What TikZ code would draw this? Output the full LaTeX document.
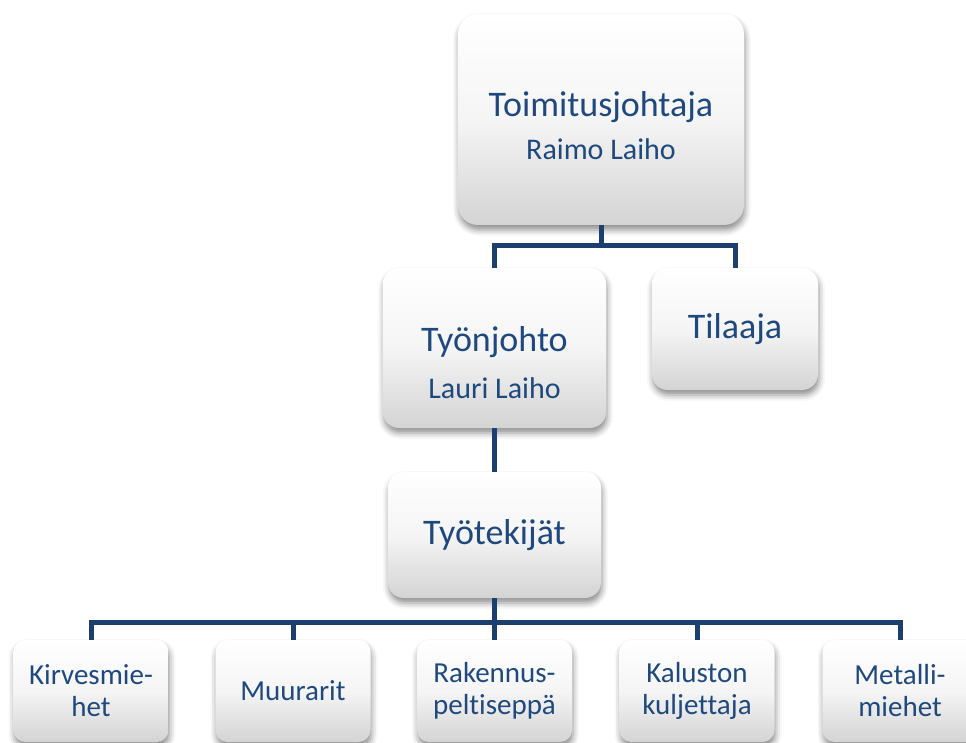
\documentclass[tikz,border=0pt]{standalone}
\usepackage{fontspec}
\setmainfont{Carlito}[Ligatures={CommonOff}]
\usetikzlibrary{shadows.blur}
\definecolor{txtblue}{HTML}{1F497D}
\definecolor{linkblue}{HTML}{1C3F6E}
\tikzset{
  orgbox/.style={rectangle, rounded corners=16pt, top color=white, bottom color=black!17,
    middle color=black!4, text=txtblue, align=center, inner sep=2pt,
    blur shadow={shadow xshift=1pt, shadow yshift=-5pt, shadow blur radius=6pt, shadow opacity=45}},
  label text/.style={text=txtblue, align=center, inner sep=0pt},
  link/.style={draw=linkblue, line width=5pt, line join=miter},
  big/.style={font=\fontsize{36}{41}\selectfont},
  small/.style={font=\fontsize{29}{32}\selectfont},
}
\begin{document}
\begin{tikzpicture}[x=1pt,y=-1pt]
\useasboundingbox (0,0) rectangle (966,743);
\clip (0,0) rectangle (966,743);

% chain of command
\node[orgbox, rounded corners=20pt, minimum width=286pt, minimum height=211pt] (ceo) at (601,119.5) {};
\node[label text, big] (ceoTitle) at (601,107) {Toimitusjohtaja};
\node[label text, font=\fontsize{30}{34}\selectfont] (ceoName) at (601,149) {Raimo Laiho};

\node[orgbox, minimum width=223pt, minimum height=160pt] (foreman) at (494.5,348) {};
\node[label text, big] (foremanTitle) at (494.5,342) {Työnjohto};
\node[label text, font=\fontsize{30}{34}\selectfont] (foremanName) at (494.5,388) {Lauri Laiho};

\node[orgbox, big, minimum width=166pt, minimum height=122pt] (client) at (735,329) {Tilaaja};
\node[orgbox, big, minimum width=213pt, minimum height=126pt] (workers) at (494.5,535) {Työtekijät};

% trades
\node[orgbox, small, rounded corners=12pt, minimum width=155pt, minimum height=102pt] (t1) at (91,691) {Kirvesmie-\\het};
\node[orgbox, small, rounded corners=12pt, minimum width=155pt, minimum height=102pt] (t2) at (293,691) {Muurarit};
\node[orgbox, small, rounded corners=12pt, minimum width=155pt, minimum height=102pt] (t3) at (494.5,691) {Rakennus-\\peltiseppä};
\node[orgbox, small, rounded corners=12pt, minimum width=155pt, minimum height=102pt] (t4) at (697,691) {Kaluston\\kuljettaja};
\node[orgbox, small, rounded corners=12pt, minimum width=155pt, minimum height=102pt] (t5) at (900,691) {Metalli-\\miehet};

% connectors
\coordinate (busA) at ([yshift=-20pt]ceo.south);
\draw[link] (ceo.south) -- (busA) -| (foreman.north);
\draw[link] (busA) -| (client.north);
\draw[link] (foreman.south) -- (workers.north);
\coordinate (busB) at ([yshift=-24pt]workers.south);
\draw[link] (workers.south) -- (busB);
\draw[link] (busB) -| (t1.north);
\draw[link] (busB) -| (t2.north);
\draw[link] (busB) -- (t3.north);
\draw[link] (busB) -| (t4.north);
\draw[link] (busB) -| (t5.north);
\end{tikzpicture}
\end{document}
